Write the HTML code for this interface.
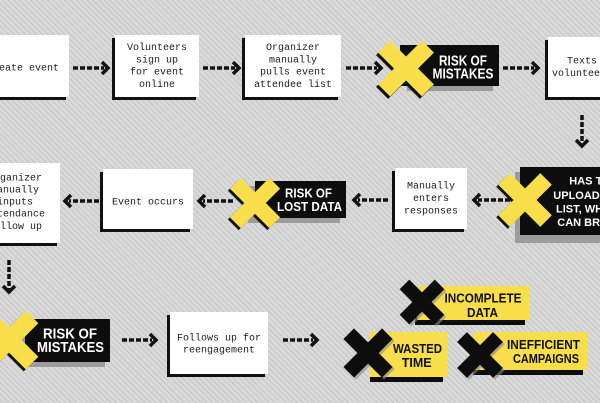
<!DOCTYPE html>
<html><head><meta charset="utf-8"><style>
html,body{margin:0;padding:0;width:600px;height:403px;overflow:hidden;}
body{background:#d3d3d3;background-image:repeating-linear-gradient(45deg,#dadada 0px,#dadada 2px,#c6c6c6 2px,#c6c6c6 3px,#d6d6d6 3px,#d6d6d6 4px);}
svg{display:block;}
.m{font-family:"Liberation Mono",monospace;font-size:10px;fill:#1c1c1c;}
.b{font-family:"Liberation Sans",sans-serif;font-weight:bold;}
</style></head><body>
<svg width="600" height="403" viewBox="0 0 600 403" xmlns="http://www.w3.org/2000/svg">
<defs>
<g id="xs"><rect x="-31" y="-8.5" width="62" height="17" transform="rotate(45)"/><rect x="-31" y="-8.5" width="62" height="17" transform="rotate(-45)"/></g>
</defs>

<!-- white boxes with black offset shadow -->
<g fill="#111">
<rect x="-53" y="38" width="119" height="62"/>
<rect x="112" y="38" width="84" height="62"/>
<rect x="242" y="38" width="96" height="62"/>
<rect x="545" y="40" width="80" height="60"/>
<rect x="392" y="171" width="72" height="61"/>
<rect x="100" y="172" width="90" height="60"/>
<rect x="-33" y="166" width="90" height="80"/>
<rect x="167" y="315" width="98" height="62"/>
</g>
<g fill="#fff">
<rect x="-50" y="35" width="119" height="62"/>
<rect x="115" y="35" width="84" height="62"/>
<rect x="245" y="35" width="96" height="62"/>
<rect x="548" y="37" width="80" height="60"/>
<rect x="395" y="168" width="72" height="61"/>
<rect x="103" y="169" width="90" height="60"/>
<rect x="-30" y="163" width="90" height="80"/>
<rect x="170" y="312" width="98" height="62"/>
</g>
<g class="m" text-anchor="middle">
<text x="23" y="70.5">Create event</text>
<text x="157" y="50">Volunteers</text>
<text x="157" y="62.3">sign up</text>
<text x="157" y="74.6">for event</text>
<text x="157" y="87">online</text>
<text x="293" y="50">Organizer</text>
<text x="293" y="62.3">manually</text>
<text x="293" y="74.6">pulls event</text>
<text x="293" y="87">attendee list</text>
<text x="582" y="63.5">Texts</text>
<text x="582" y="76">volunteers</text>
<text x="431" y="188.5">Manually</text>
<text x="431" y="201">enters</text>
<text x="431" y="213.5">responses</text>
<text x="148" y="204.5">Event occurs</text>
<text x="15" y="180.5">Organizer</text>
<text x="15" y="192.5">manually</text>
<text x="15" y="204.5">inputs</text>
<text x="15" y="216.5">attendance</text>
<text x="15" y="229">follow up</text>
<text x="219" y="340.5">Follows up for</text>
<text x="219" y="352.5">reengagement</text>
</g>

<!-- arrows -->
<g stroke="#111" stroke-width="3.5" fill="none">
<path d="M73 68 H104" stroke-dasharray="5 2"/><path d="M102 62 L108 68 L102 74"/>
<path d="M203 68 H235" stroke-dasharray="5 2"/><path d="M233 62 L239 68 L233 74"/>
<path d="M346 68 H377" stroke-dasharray="5 2"/><path d="M375 62 L381 68 L375 74"/>
<path d="M503 68 H534" stroke-dasharray="5 2"/><path d="M532 62 L538 68 L532 74"/>
<path d="M582 115 V143" stroke-dasharray="5 2"/><path d="M576 140 L582 146 L588 140"/>
<path d="M510 200 H478" stroke-dasharray="5 2"/><path d="M480 194 L474 200 L480 206"/>
<path d="M388 200 H358" stroke-dasharray="5 2"/><path d="M360 194 L354 200 L360 206"/>
<path d="M233 201 H203" stroke-dasharray="5 2"/><path d="M205 195 L199 201 L205 207"/>
<path d="M99 201 H69" stroke-dasharray="5 2"/><path d="M71 195 L65 201 L71 207"/>
<path d="M9 260 V289" stroke-dasharray="5 2"/><path d="M3 286 L9 292 L15 286"/>
<path d="M122 340 H152" stroke-dasharray="5 2"/><path d="M150 334 L156 340 L150 346"/>
<path d="M283 340 H313" stroke-dasharray="5 2"/><path d="M311 334 L317 340 L311 346"/>
</g>

<!-- RISK OF MISTAKES (top) -->
<rect x="407" y="50" width="86" height="41" fill="#9c9c9c"/>
<rect x="400" y="45" width="99" height="41" fill="#0d0d0d"/>
<g transform="translate(404,71)" fill="#111"><use href="#xs"/></g>
<g transform="translate(406,68.5)" fill="#f8de4a"><use href="#xs"/></g>
<g class="b" fill="#fff" font-size="14.5" text-anchor="middle">
<text x="463" y="65.5" textLength="48" lengthAdjust="spacingAndGlyphs">RISK OF</text>
<text x="463" y="78.5" textLength="61" lengthAdjust="spacingAndGlyphs">MISTAKES</text>
</g>

<!-- HAS TO UPLOAD -->
<rect x="515" y="172" width="100" height="71" fill="#9c9c9c"/>
<rect x="520" y="167" width="90" height="68" fill="#0d0d0d"/>
<g transform="translate(523,202) scale(0.96)" fill="#111"><use href="#xs"/></g>
<g transform="translate(525,200) scale(0.96)" fill="#f8de4a"><use href="#xs"/></g>
<g class="b" fill="#fff" font-size="11">
<text x="569.3" y="184.5">HAS TO</text>
<text x="553.3" y="199">UPLOAD THE</text>
<text x="556" y="212.5">LIST, WHICH</text>
<text x="557.3" y="226">CAN BREAK</text>
</g>

<!-- RISK OF LOST DATA -->
<rect x="248" y="186" width="92" height="37" fill="#9c9c9c"/>
<rect x="255" y="181" width="91" height="37" fill="#0d0d0d"/>
<g transform="translate(253,205) scale(0.9)" fill="#111"><use href="#xs"/></g>
<g transform="translate(255,203) scale(0.9)" fill="#f8de4a"><use href="#xs"/></g>
<g class="b" fill="#fff" font-size="12.5" text-anchor="middle">
<text x="308.5" y="197.5" textLength="47" lengthAdjust="spacingAndGlyphs">RISK OF</text>
<text x="309.5" y="211" textLength="65" lengthAdjust="spacingAndGlyphs">LOST DATA</text>
</g>

<!-- RISK OF MISTAKES (bottom) -->
<rect x="20" y="325" width="85" height="42" fill="#9c9c9c"/>
<rect x="25" y="319" width="85" height="43" fill="#0d0d0d"/>
<g transform="translate(7,342) scale(1.05)" fill="#111"><use href="#xs"/></g>
<g transform="translate(9,340) scale(1.05)" fill="#f8de4a"><use href="#xs"/></g>
<g class="b" fill="#fff" font-size="15" text-anchor="middle">
<text x="70" y="338.5" textLength="54" lengthAdjust="spacingAndGlyphs">RISK OF</text>
<text x="70.5" y="352" textLength="67" lengthAdjust="spacingAndGlyphs">MISTAKES</text>
</g>

<!-- outcomes -->
<rect x="415" y="291" width="110" height="34" fill="#0d0d0d"/>
<rect x="417" y="286" width="112" height="34" fill="#f8de4a"/>
<rect x="370" y="337" width="73" height="45" fill="#0d0d0d"/>
<rect x="370" y="332" width="77" height="45" fill="#f8de4a"/>
<rect x="473" y="337" width="110" height="38" fill="#0d0d0d"/>
<rect x="473" y="332" width="114" height="38" fill="#f8de4a"/>

<g transform="translate(424,304) scale(0.8)" fill="#8a8a8a" opacity="0.6"><use href="#xs"/></g>
<g transform="translate(422,302) scale(0.8)" fill="#0d0d0d"><use href="#xs"/></g>
<g transform="translate(370,355) scale(0.88)" fill="#8a8a8a" opacity="0.6"><use href="#xs"/></g>
<g transform="translate(368,353) scale(0.88)" fill="#0d0d0d"><use href="#xs"/></g>
<g transform="translate(482,357) scale(0.82)" fill="#8a8a8a" opacity="0.6"><use href="#xs"/></g>
<g transform="translate(480,355) scale(0.82)" fill="#0d0d0d"><use href="#xs"/></g>

<g class="b" fill="#111" font-size="13" text-anchor="middle">
<text x="483" y="302.5" textLength="77" lengthAdjust="spacingAndGlyphs">INCOMPLETE</text>
<text x="482.5" y="317" textLength="31" lengthAdjust="spacingAndGlyphs">DATA</text>
<text x="417.5" y="353" textLength="49" lengthAdjust="spacingAndGlyphs">WASTED</text>
<text x="416.7" y="367" textLength="30" lengthAdjust="spacingAndGlyphs">TIME</text>
<text x="543.5" y="349" textLength="73" lengthAdjust="spacingAndGlyphs">INEFFICIENT</text>
<text x="546" y="363" textLength="66" lengthAdjust="spacingAndGlyphs">CAMPAIGNS</text>
</g>
</svg>
</body></html>
